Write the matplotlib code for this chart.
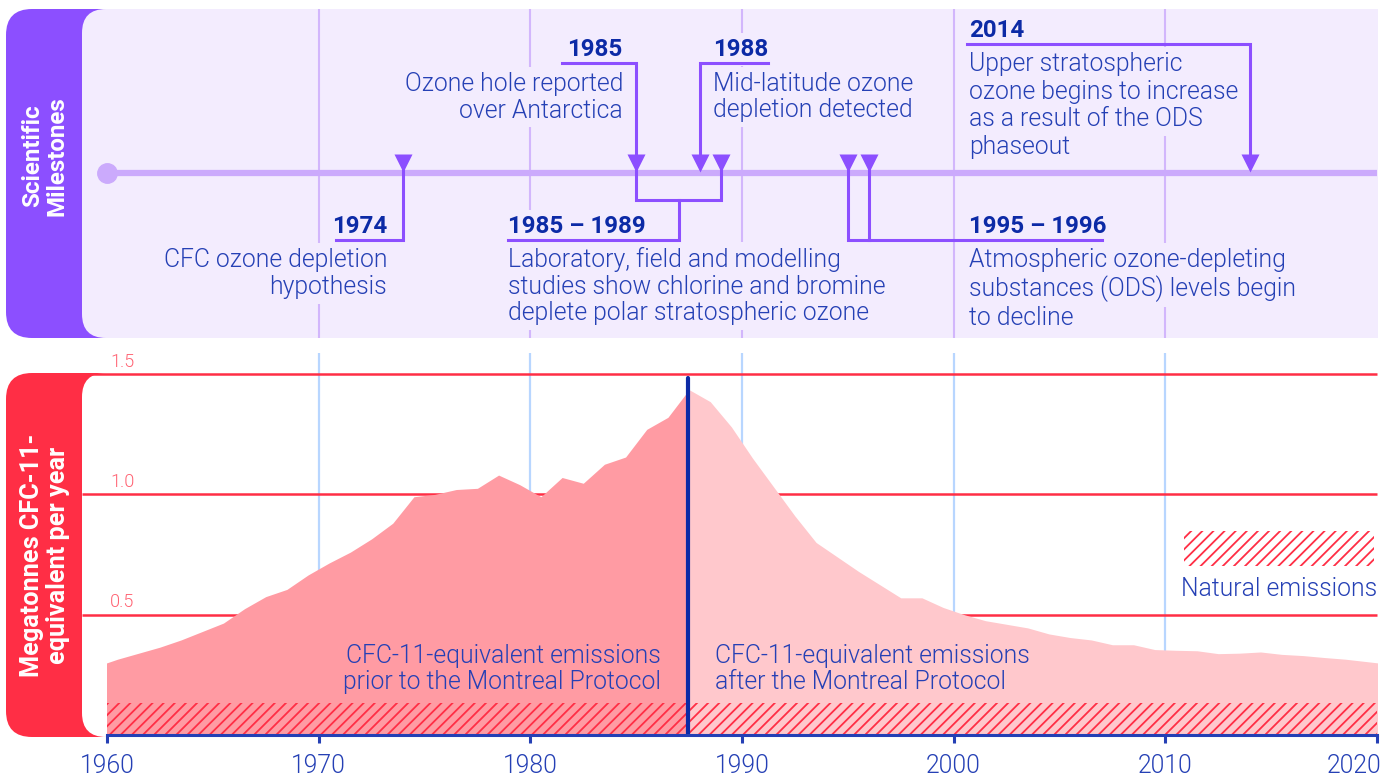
import matplotlib.pyplot as plt
import numpy as np
from matplotlib.patches import FancyBboxPatch, Rectangle
from matplotlib.transforms import ScaledTranslation

plt.rcParams['font.family'] = ['Roboto', 'DejaVu Sans']
plt.rcParams['hatch.linewidth'] = 1.3

# CFC-11-equivalent emissions (Mt per year), plotted at mid-year
years = np.arange(1959, 2021)
emissions = [0.285, 0.315, 0.34, 0.365, 0.395, 0.43, 0.465, 0.525, 0.575, 0.605,
             0.665, 0.715, 0.76, 0.815, 0.88, 0.99, 1.00, 1.02, 1.025, 1.08,
             1.04, 0.99, 1.07, 1.046, 1.125, 1.155, 1.27, 1.32, 1.435, 1.385,
             1.28, 1.15, 1.03, 0.91, 0.80, 0.74, 0.68, 0.625, 0.57, 0.57,
             0.53, 0.50, 0.475, 0.46, 0.445, 0.42, 0.405, 0.395, 0.375, 0.375,
             0.355, 0.352, 0.35, 0.338, 0.34, 0.345, 0.335, 0.33, 0.322, 0.315,
             0.305, 0.295]
montreal = 1987.45
natural = 0.133
decades = [1960, 1970, 1980, 1990, 2000, 2010, 2020]
gridlevels = [0.5, 1.0, 1.5]

# colours
PURPLE = '#8c4fff'
LAV = '#f3ecfe'
TIMELINE = '#cbaafc'
PGRID = '#d2b6fc'
RED = '#ff2e45'
RED_LBL = '#ff6272'
DARKFILL = '#ff9ba3'
LIGHTFILL = '#ffc8cc'
BGRID = '#b8d6ff'
BLUE = '#2540b5'
NAVY = '#0c2aa6'
FS = 17.8
FSB = 17.4
LIGHT = 300

W, H = 1395, 776
fig = plt.figure(figsize=(W / 100, H / 100), dpi=100)


def yr(px):
    # layout helper: horizontal pixel -> year on the shared time axis
    return 1960 + (px - 107) / 1270 * 60


# background panels
bg = fig.add_axes([0, 0, 1, 1])
bg.set_xlim(0, W)
bg.set_ylim(H, 0)
bg.axis('off')
bg.add_patch(FancyBboxPatch((6, 9), 130, 329, boxstyle='round,pad=0,rounding_size=26', fc=PURPLE, ec='none'))
bg.add_patch(FancyBboxPatch((82, 9), 200, 329, boxstyle='round,pad=0,rounding_size=24', fc=LAV, ec='none'))
bg.add_patch(Rectangle((200, 9), 1378 - 200, 329, fc=LAV, ec='none'))
bg.add_patch(FancyBboxPatch((6, 373), 130, 364, boxstyle='round,pad=0,rounding_size=26', fc=RED, ec='none'))
bg.add_patch(FancyBboxPatch((82, 373), 200, 364, boxstyle='round,pad=0,rounding_size=24', fc='white', ec='none'))
bg.add_patch(Rectangle((200, 373), 1195, 364, fc='white', ec='none'))
bg.text(45, 156, 'Scientific\nMilestones', rotation=90, ha='center', va='center',
        color='white', fontsize=FSB, fontweight='bold', linespacing=1.1)
bg.text(45, 555, 'Megatonnes CFC-11-\nequivalent per year', rotation=90, ha='center', va='center',
        color='white', fontsize=18.2, fontweight='bold', linespacing=1.1)

# ---- top: scientific milestones ----
axt = fig.add_axes([107 / W, (H - 340) / H, 1270 / W, 340 / H])
axt.set_xlim(1960, 2020)
axt.set_ylim(340, 0)
axt.axis('off')

axt.vlines(decades[1:-1], 9, 338, color=PGRID, lw=1.5, zorder=1)
axt.plot([1960, 2020], [173, 173], color=TIMELINE, lw=4.5, solid_capstyle='butt', zorder=2, clip_on=False)
axt.plot([1960], [173], 'o', ms=14, color=TIMELINE, zorder=2, clip_on=False)

tri_years = [1974, 1985, 1988, 1989, 1995, 1996, 2014]
axt.plot(tri_years, [163] * len(tri_years), 'v', ms=13, color=PURPLE, mec='none', zorder=6)

conn = dict(color=PURPLE, lw=2.2, zorder=5, solid_joinstyle='miter', clip_on=False)
axt.plot([yr(336), 1974, 1974], [240, 240, 163], **conn)
axt.plot([yr(562), 1985, 1985], [63, 63, 163], **conn)
axt.plot([1985, 1985, 1989, 1989], [163, 200, 200, 163], **conn)
axt.plot([1987, 1987, yr(508)], [200, 240, 240], **conn)
axt.plot([yr(768), 1988, 1988], [63, 63, 163], **conn)
axt.plot([1995, 1995, yr(1102)], [163, 240, 240], **conn)
axt.plot([1996, 1996], [163, 240], **conn)
axt.plot([yr(967), 2014, 2014], [44, 44, 163], **conn)


def put_lines(axis, x, y0, step, lines, ha, bold=False):
    for i, s in enumerate(lines):
        kw = dict(ha=ha, va='baseline', fontsize=FSB if bold else FS,
                  fontweight='bold' if bold else LIGHT)
        # lavender box hides the grid lines, drawn under all the text
        axis.text(x, y0 + i * step, s, color='none',
                  bbox=dict(boxstyle='square,pad=0.2', fc=LAV, ec='none'), zorder=3, **kw)
        axis.text(x, y0 + i * step, s, color=NAVY if bold else BLUE, zorder=4, **kw)


put_lines(axt, yr(387), 233, 0, ['1974'], 'right', bold=True)
put_lines(axt, yr(387), 267, 27, ['CFC ozone depletion', 'hypothesis'], 'right')
put_lines(axt, yr(622), 56, 0, ['1985'], 'right', bold=True)
put_lines(axt, yr(623), 91, 26.5, ['Ozone hole reported', 'over Antarctica'], 'right')
put_lines(axt, yr(713), 56, 0, ['1988'], 'left', bold=True)
put_lines(axt, yr(713), 91, 26.5, ['Mid-latitude ozone', 'depletion detected'], 'left')
put_lines(axt, yr(508), 233, 0, ['1985 – 1989'], 'left', bold=True)
put_lines(axt, yr(508), 267, 26.5, ['Laboratory, field and modelling',
                                    'studies show chlorine and bromine',
                                    'deplete polar stratospheric ozone'], 'left')
put_lines(axt, yr(969), 233, 0, ['1995 – 1996'], 'left', bold=True)
put_lines(axt, yr(969), 267, 29, ['Atmospheric ozone-depleting',
                                  'substances (ODS) levels begin',
                                  'to decline'], 'left')
put_lines(axt, yr(969), 37, 0, ['2014'], 'left', bold=True)
put_lines(axt, yr(969), 71, 27.7, ['Upper stratospheric',
                                   'ozone begins to increase',
                                   'as a result of the ODS',
                                   'phaseout'], 'left')

# ---- bottom: emissions ----
ax = fig.add_axes([107 / W, (H - 735) / H, 1270 / W, 361 / H])
ax.set_xlim(1960, 2020)
ax.set_ylim(0, 1.5)
ax.patch.set_alpha(0)
for side in ['top', 'left', 'right']:
    ax.spines[side].set_visible(False)
ax.spines['bottom'].set_color(BLUE)
ax.spines['bottom'].set_linewidth(2.2)
ax.spines['bottom'].set_zorder(6)
ax.set_yticks([])

ax.vlines(decades[1:-1], 0, 1.587, color=BGRID, lw=1.6, zorder=0.5, clip_on=False)
ax.hlines(gridlevels, yr(82), 2020, color=RED, lw=1.8, zorder=0.6, clip_on=False)
for g in gridlevels:
    ax.text(yr(110), g + 0.03, f'{g:.1f}', color=RED_LBL, fontsize=13, fontweight=LIGHT,
            ha='left', va='baseline')

xm = years + 0.5
xs = np.sort(np.append(xm, montreal))
ys = np.interp(xs, xm, emissions)
ax.fill_between(xs, 0, ys, where=xs <= montreal, color=DARKFILL, lw=0, zorder=1)
ax.fill_between(xs, 0, ys, where=xs >= montreal, color=LIGHTFILL, lw=0, zorder=1)
ax.fill_between([1960, 2020], 0, natural, facecolor='none', edgecolor=RED, hatch='///', lw=0, zorder=2)
ax.vlines(montreal, 0, 1.483, color=NAVY, lw=3, zorder=5, capstyle='round')

ax.add_patch(Rectangle((yr(1184), 0.702), yr(1374) - yr(1184), 0.146,
                       facecolor='none', edgecolor=RED, hatch='///', lw=0, zorder=2))
ax.text(yr(1279), 0.577, 'Natural emissions', color=BLUE, fontsize=FS, fontweight=LIGHT,
        ha='center', va='baseline')

txt = dict(color=BLUE, fontsize=FS, fontweight=LIGHT, va='baseline', zorder=4)
ax.text(yr(661), 0.30, 'CFC-11-equivalent emissions', ha='right', **txt)
ax.text(yr(661), 0.19, 'prior to the Montreal Protocol', ha='right', **txt)
ax.text(yr(715), 0.30, 'CFC-11-equivalent emissions', ha='left', **txt)
ax.text(yr(715), 0.19, 'after the Montreal Protocol', ha='left', **txt)

ax.set_xticks(decades)
ax.set_xticklabels([str(d) for d in decades], fontweight=LIGHT)
ax.tick_params(axis='x', length=6, width=2.2, color=BLUE, labelcolor=BLUE, labelsize=FS, pad=8)
last = ax.get_xticklabels()[-1]
last.set_horizontalalignment('right')
last.set_transform(last.get_transform() + ScaledTranslation(0.04, 0, fig.dpi_scale_trans))

fig.savefig('out.png', dpi=100)
